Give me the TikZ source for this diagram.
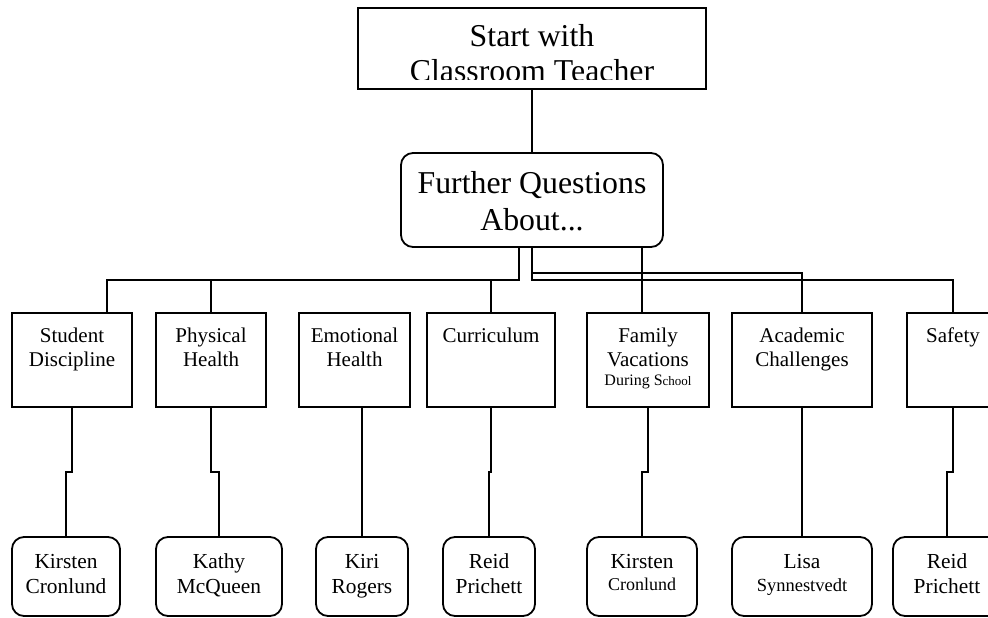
\documentclass[tikz,border=0pt]{standalone}
\usepackage{fontspec}
\setmainfont{Liberation Serif}
\usetikzlibrary{calc}
\newcommand\mlines[1]{\begin{tabular}[t]{@{}c@{}}#1\end{tabular}}
\tikzset{
  sqbox/.style={draw, line width=1.8pt, inner sep=0pt, outer sep=0pt, anchor=north west},
  rbox/.style={sqbox, rounded corners=12pt},
  conn/.style={line width=1.8pt},
  lbl/.style={anchor=base, inner sep=0pt, outer sep=0pt},
  ftop/.style={font=\fontsize{31.8}{35}\selectfont},
  fmid/.style={font=\fontsize{31.8}{37}\selectfont},
  fone/.style={font=\fontsize{21}{24}\selectfont},
  ftwo/.style={font=\fontsize{21.4}{25}\selectfont},
}
\begin{document}
\begin{tikzpicture}[x=1pt,y=-1pt]
\clip (0,0) rectangle (988,618);
\fill[white] (0,0) rectangle (988,618);

% top and middle boxes
\node[sqbox, minimum width=348pt, minimum height=81pt] (top) at (358,8) {};
\node[rbox, minimum width=262pt, minimum height=94pt] (mq) at (401,153) {};

% row 1
\node[sqbox, minimum width=120pt, minimum height=94pt] (sd)  at (12,313) {};
\node[sqbox, minimum width=110pt, minimum height=94pt] (ph)  at (156,313) {};
\node[sqbox, minimum width=111pt, minimum height=94pt] (eh)  at (299,313) {};
\node[sqbox, minimum width=128pt, minimum height=94pt] (cur) at (427,313) {};
\node[sqbox, minimum width=122pt, minimum height=94pt] (fv)  at (587,313) {};
\node[sqbox, minimum width=140pt, minimum height=94pt] (ac)  at (732,313) {};
\node[sqbox, minimum width=92pt,  minimum height=94pt] (saf) at (907,313) {};

% row 2
\node[rbox, minimum width=108pt, minimum height=79pt] (k1)  at (12,537) {};
\node[rbox, minimum width=126pt, minimum height=79pt] (kq)  at (156,537) {};
\node[rbox, minimum width=92pt,  minimum height=79pt] (kr)  at (316,537) {};
\node[rbox, minimum width=92pt,  minimum height=79pt] (rp1) at (443,537) {};
\node[rbox, minimum width=110pt, minimum height=79pt] (k2)  at (587,537) {};
\node[rbox, minimum width=140pt, minimum height=79pt] (ls)  at (732,537) {};
\node[rbox, minimum width=108pt, minimum height=79pt] (rp2) at (893,537) {};

% texts
\begin{scope}
  \clip (top.north west) rectangle ([yshift=9.5pt]top.south east);
  \node[lbl, ftop] (topt) at ([yshift=-39pt]top.north) {\mlines{Start with\\Classroom Teacher}};
\end{scope}
\node[lbl, fmid] (mqt) at ([yshift=-40pt]mq.north) {\mlines{Further Questions\\About...}};

\node[lbl, fone] (sdt)  at ([yshift=-29pt]sd.north)  {\mlines{Student\\Discipline}};
\node[lbl, fone] (pht)  at ([yshift=-29pt]ph.north)  {\mlines{Physical\\Health}};
\node[lbl, fone] (eht)  at ([yshift=-29pt]eh.north)  {\mlines{Emotional\\Health}};
\node[lbl, fone] (curt) at ([yshift=-29pt]cur.north) {Curriculum};
\node[lbl, fone] (fvt)  at ([yshift=-29pt]fv.north)  {\mlines{Family\\Vacations\\[-5pt]{\fontsize{16}{19}\selectfont During S}{\fontsize{13}{15}\selectfont chool}}};
\node[lbl, fone] (act)  at ([yshift=-29pt]ac.north)  {\mlines{Academic\\Challenges}};
\node[lbl, fone] (saft) at ([yshift=-29pt]saf.north) {Safety};

\node[lbl, ftwo] (k1t)  at ([yshift=-31pt]k1.north)  {\mlines{Kirsten\\Cronlund}};
\node[lbl, ftwo] (kqt)  at ([yshift=-31pt]kq.north)  {\mlines{Kathy\\McQueen}};
\node[lbl, ftwo] (krt)  at ([yshift=-31pt]kr.north)  {\mlines{Kiri\\Rogers}};
\node[lbl, ftwo] (rp1t) at ([yshift=-31pt]rp1.north) {\mlines{Reid\\Prichett}};
\node[lbl, ftwo] (k2t)  at ([yshift=-31pt]k2.north)  {\mlines{Kirsten\\[-3pt]{\fontsize{18}{21}\selectfont Cronlund}}};
\node[lbl, ftwo] (lst)  at ([yshift=-31pt]ls.north)  {\mlines{Lisa\\[-2pt]{\fontsize{18.5}{21}\selectfont Synnestvedt}}};
\node[lbl, ftwo] (rp2t) at ([yshift=-31pt]rp2.north) {\mlines{Reid\\Prichett}};

% connectors top
\draw[conn] (top.south) -- (mq.north);
\draw[conn] ([xshift=-13pt]mq.south) -- ++(0,33) -| ([xshift=35pt]sd.north);
\draw[conn] ([xshift=-13pt]mq.south) -- ++(0,33) -| (ph.north);
\draw[conn] ([xshift=-13pt]mq.south) -- ++(0,33) -| (cur.north);
\draw[conn] (mq.south) -- ++(0,33) -| (saf.north);
\draw[conn] (mq.south) -- ++(0,26) -| (ac.north);
\draw[conn] ([xshift=110pt]mq.south) -- ([xshift=110pt]mq.south |- fv.north);

% connectors row1 -> row2
\draw[conn] (sd.south)  |- ($(sd.south)!.5!(k1.north)$)   -| (k1.north);
\draw[conn] (ph.south)  |- ($(ph.south)!.5!(kq.north)$)   -| (kq.north);
\draw[conn] (kr.north) -- (kr.north |- eh.south);
\draw[conn] (cur.south) |- ($(cur.south)!.5!(rp1.north)$) -| (rp1.north);
\draw[conn] (fv.south)  |- ($(fv.south)!.5!(k2.north)$)   -| (k2.north);
\draw[conn] (ac.south)  |- ($(ac.south)!.5!(ls.north)$)   -| (ls.north);
\draw[conn] (saf.south) |- ($(saf.south)!.5!(rp2.north)$) -| (rp2.north);
\end{tikzpicture}
\end{document}
